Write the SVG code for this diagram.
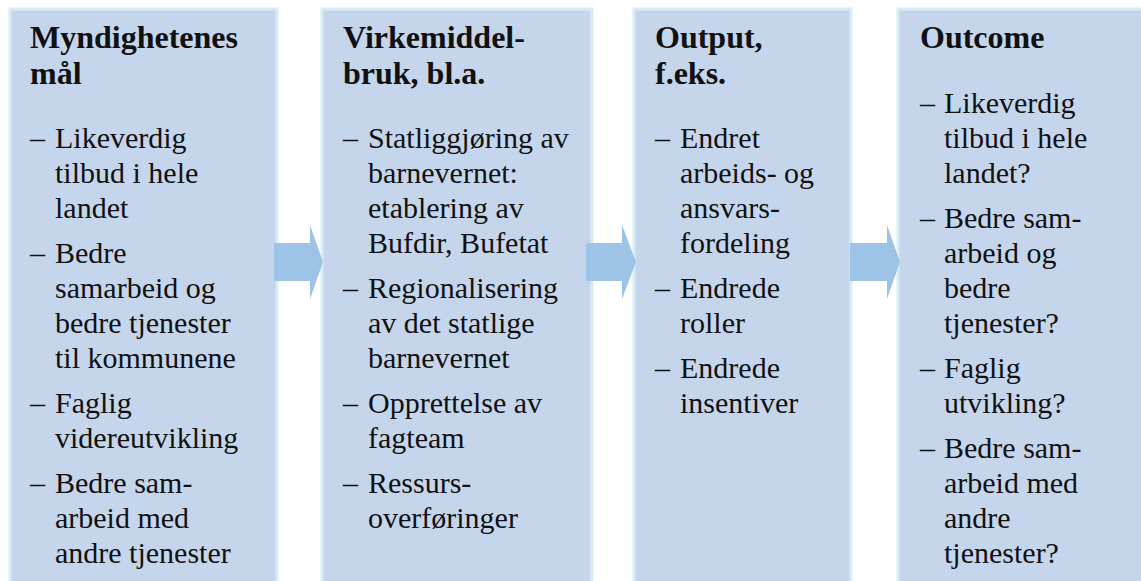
<svg xmlns="http://www.w3.org/2000/svg" width="1141" height="581" viewBox="0 0 1141 581">
  <style>
    .box { fill: #c5d6ec; stroke: #d7edf4; stroke-width: 3; }
    .arrow { fill: #9dc3e6; }
    .title, .body { font-family: "Liberation Serif", "Tinos", "Times New Roman", "DejaVu Serif", serif; fill: #111111; }
    .title { font-size: 32px; font-weight: bold; }
    .body { font-size: 30px; }
  </style>
  <rect width="1141" height="581" fill="#ffffff"/>

  <!-- Stage 1 -->
  <g id="maal">
    <rect class="box" x="10" y="9" width="267" height="600"/>
    <text class="title"><tspan x="30" y="48">Myndighetenes</tspan><tspan x="30" y="84">mål</tspan></text>
    <text class="body">
      <tspan x="30" y="148">–</tspan><tspan x="55" y="148">Likeverdig</tspan>
      <tspan x="55" y="183">tilbud i hele</tspan>
      <tspan x="55" y="218">landet</tspan>
      <tspan x="30" y="263">–</tspan><tspan x="55" y="263">Bedre</tspan>
      <tspan x="55" y="298">samarbeid og</tspan>
      <tspan x="55" y="333">bedre tjenester</tspan>
      <tspan x="55" y="368">til kommunene</tspan>
      <tspan x="30" y="413">–</tspan><tspan x="55" y="413">Faglig</tspan>
      <tspan x="55" y="448">videreutvikling</tspan>
      <tspan x="30" y="493">–</tspan><tspan x="55" y="493">Bedre sam-</tspan>
      <tspan x="55" y="528">arbeid med</tspan>
      <tspan x="55" y="563">andre tjenester</tspan>
    </text>
  </g>

  <!-- Stage 2 -->
  <g id="virkemiddel">
    <rect class="box" x="322" y="9" width="270" height="600"/>
    <text class="title"><tspan x="343" y="48">Virkemiddel-</tspan><tspan x="343" y="84">bruk, bl.a.</tspan></text>
    <text class="body">
      <tspan x="343" y="148">–</tspan><tspan x="368" y="148">Statliggjøring av</tspan>
      <tspan x="368" y="183">barnevernet:</tspan>
      <tspan x="368" y="218">etablering av</tspan>
      <tspan x="368" y="253">Bufdir, Bufetat</tspan>
      <tspan x="343" y="298">–</tspan><tspan x="368" y="298">Regionalisering</tspan>
      <tspan x="368" y="333">av det statlige</tspan>
      <tspan x="368" y="368">barnevernet</tspan>
      <tspan x="343" y="413">–</tspan><tspan x="368" y="413">Opprettelse av</tspan>
      <tspan x="368" y="448">fagteam</tspan>
      <tspan x="343" y="493">–</tspan><tspan x="368" y="493">Ressurs-</tspan>
      <tspan x="368" y="528">overføringer</tspan>
    </text>
  </g>

  <!-- Stage 3 -->
  <g id="output">
    <rect class="box" x="634" y="9" width="217" height="600"/>
    <text class="title"><tspan x="655" y="48">Output,</tspan><tspan x="655" y="84">f.eks.</tspan></text>
    <text class="body">
      <tspan x="655" y="148">–</tspan><tspan x="680" y="148">Endret</tspan>
      <tspan x="680" y="183">arbeids- og</tspan>
      <tspan x="680" y="218">ansvars-</tspan>
      <tspan x="680" y="253">fordeling</tspan>
      <tspan x="655" y="298">–</tspan><tspan x="680" y="298">Endrede</tspan>
      <tspan x="680" y="333">roller</tspan>
      <tspan x="655" y="378">–</tspan><tspan x="680" y="378">Endrede</tspan>
      <tspan x="680" y="413">insentiver</tspan>
    </text>
  </g>

  <!-- Stage 4 -->
  <g id="outcome">
    <rect class="box" x="898" y="9" width="260" height="600"/>
    <text class="title"><tspan x="920" y="48">Outcome</tspan></text>
    <text class="body">
      <tspan x="920" y="113">–</tspan><tspan x="944" y="113">Likeverdig</tspan>
      <tspan x="944" y="148">tilbud i hele</tspan>
      <tspan x="944" y="183">landet?</tspan>
      <tspan x="920" y="228">–</tspan><tspan x="944" y="228">Bedre sam-</tspan>
      <tspan x="944" y="263">arbeid og</tspan>
      <tspan x="944" y="298">bedre</tspan>
      <tspan x="944" y="333">tjenester?</tspan>
      <tspan x="920" y="378">–</tspan><tspan x="944" y="378">Faglig</tspan>
      <tspan x="944" y="413">utvikling?</tspan>
      <tspan x="920" y="458">–</tspan><tspan x="944" y="458">Bedre sam-</tspan>
      <tspan x="944" y="493">arbeid med</tspan>
      <tspan x="944" y="528">andre</tspan>
      <tspan x="944" y="563">tjenester?</tspan>
    </text>
  </g>

  <!-- Block arrows between stages -->
  <g id="connectors">
    <polygon class="arrow" points="274,243 310,243 310,225 323,262 310,299 310,281 274,281"/>
    <polygon class="arrow" points="586,243 622,243 622,225 636,262 622,299 622,281 586,281"/>
    <polygon class="arrow" points="850,243 887,243 887,225 900,262 887,299 887,281 850,281"/>
  </g>
</svg>
